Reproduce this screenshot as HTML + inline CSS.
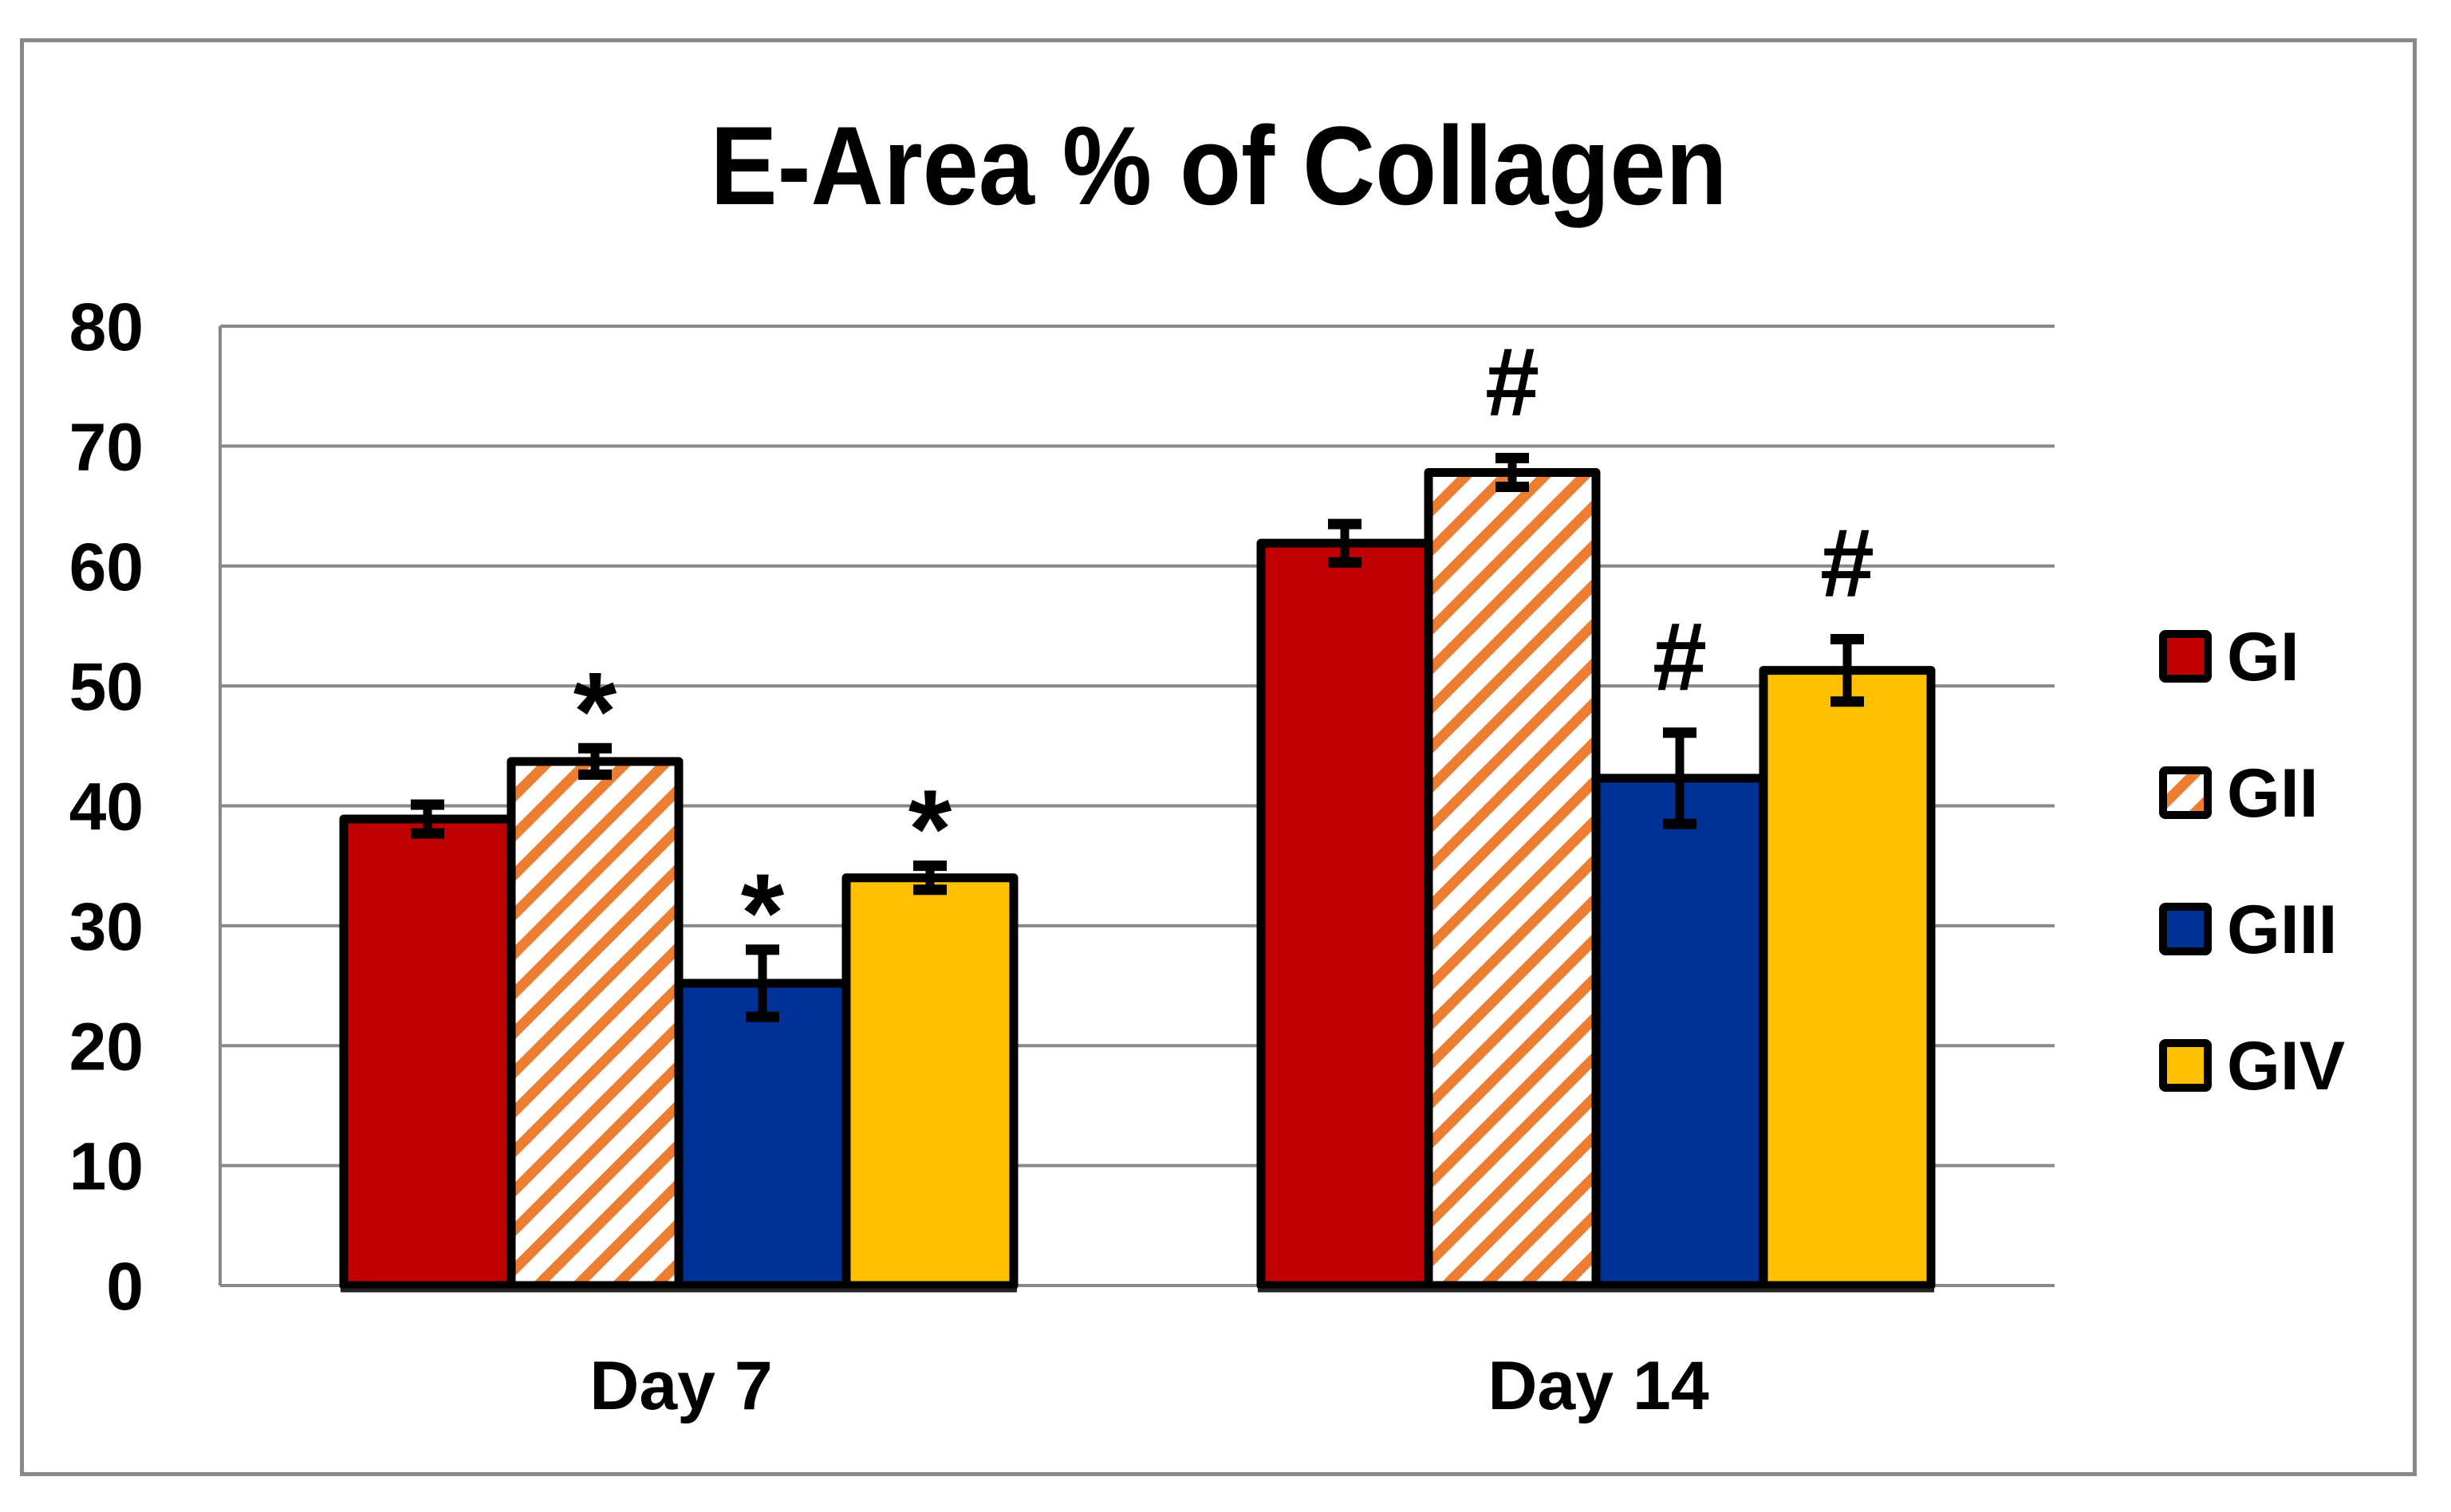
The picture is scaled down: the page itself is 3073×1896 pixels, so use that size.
<!DOCTYPE html>
<html><head><meta charset="utf-8"><title>E-Area % of Collagen</title>
<style>html,body{margin:0;padding:0;background:#fff}svg{display:block}text{font-family:"Liberation Sans",sans-serif;font-weight:bold;fill:#000}</style>
</head><body>
<svg id="chart" width="3073" height="1896" viewBox="0 0 3073 1896" xmlns="http://www.w3.org/2000/svg">
<defs>
<pattern id="hatch" patternUnits="userSpaceOnUse" width="35" height="35" patternTransform="rotate(-45)">
<rect width="35" height="35" fill="#fff"/>
<rect x="0" y="0" width="35" height="13" fill="#ED7D31"/>
</pattern>
</defs>
<rect x="27.5" y="50.5" width="3000" height="1798" fill="#fff" stroke="#898989" stroke-width="5"/>
<text x="1528" y="256" font-size="140" text-anchor="middle" textLength="1275" lengthAdjust="spacingAndGlyphs">E-Area % of Collagen</text>
<g id="grid"></g><g id="bars"></g><g id="legend"></g>
</svg>
<script>
const categories = ["Day 7", "Day 14"];
const groups = ["GI", "GII", "GIII", "GIV"];
const valuesGI = [38.9, 61.9];
const valuesGII = [43.7, 67.8];
const valuesGIII = [25.2, 42.3];
const valuesGIV = [34.0, 51.3];
const errGI = [1.6, 2.0];
const errGII = [1.5, 1.6];
const errGIII = [3.2, 4.2];
const errGIV = [1.4, 3.0];
const marksGII = ["*", "#"];
const marksGIII = ["*", "#"];
const marksGIV = ["*", "#"];
const marksGI = ["", ""];
const yTicks = [0, 10, 20, 30, 40, 50, 60, 70, 80];

const NS = "http://www.w3.org/2000/svg";
const plotL = 276, plotR = 2576, plotT = 409, plotB = 1612, yMax = 80;
const y = v => plotB - v / yMax * (plotB - plotT);
const catW = (plotR - plotL) / categories.length;
const barW = 210;
const x = (ci, si) => plotL + ci * catW + catW / 2 - 2 * barW + si * barW;
const fills = ["#C00000", "url(#hatch)", "#003296", "#FFC000"];
const series = [valuesGI, valuesGII, valuesGIII, valuesGIV];
const errs = [errGI, errGII, errGIII, errGIV];
const marks = [marksGI, marksGII, marksGIII, marksGIV];
function mk(tag, attrs, parent, text) {
  const e = document.createElementNS(NS, tag);
  for (const k in attrs) e.setAttribute(k, attrs[k]);
  if (text !== undefined) e.textContent = text;
  parent.appendChild(e);
  return e;
}
const grid = document.getElementById("grid");
yTicks.forEach(t => {
  const l = mk("line", {x1: plotL, x2: plotR, y1: y(t), y2: y(t), stroke: "#898989", "stroke-width": 4}, grid);
  
  
  const tx = mk("text", {x: 180, y: y(t) + 30, "font-size": 84, "text-anchor": "end"}, grid, String(t));
  
  
});
const gl = mk("line", {x1: plotL, x2: plotL, y1: plotT, y2: plotB, stroke: "#898989", "stroke-width": 4}, grid);


categories.forEach((c, ci) => {
  const t = mk("text", {x: plotL + ci * catW + catW / 2 + 3, y: 1767, "font-size": 86, "text-anchor": "middle"}, grid, c);
  
  
});
const bars = document.getElementById("bars");
categories.forEach((c, ci) => {
  series.forEach((s, si) => {
    const bx = x(ci, si), by = y(s[ci]);
    const r = mk("rect", {x: bx, y: by, width: barW, height: plotB - by, fill: fills[si], stroke: "#000", "stroke-width": 11, "stroke-linejoin": "round"}, bars);
    
    
    const cx = bx + barW / 2, yt = y(s[ci] + errs[si][ci]), yb = y(s[ci] - errs[si][ci]);
    const eg = mk("g", {stroke: "#000"}, bars);
    
    
    mk("line", {x1: cx, x2: cx, y1: yt, y2: yb, "stroke-width": 11}, eg);
    mk("line", {x1: cx - 21, x2: cx + 21, y1: yt + 6, y2: yt + 6, "stroke-width": 13}, eg);
    mk("line", {x1: cx - 21, x2: cx + 21, y1: yb - 6, y2: yb - 6, "stroke-width": 13}, eg);
    const m = marks[si][ci];
    if (m) {
      const off = m === "*" ? -8 : 48;
      const fs = m === "*" ? 140 : 122;
      const t = mk("text", {x: cx, y: yt - off, "font-size": fs, "text-anchor": "middle"}, bars, m);
      
      
    }
  });
  const base = mk("line", {x1: x(ci, 0) - 4, x2: x(ci, 3) + barW + 4, y1: plotB + 6, y2: plotB + 6, stroke: "#222", "stroke-width": 5}, bars);
  
  
});
const legend = document.getElementById("legend");
groups.forEach((g, i) => {
  const gy = 823 + i * 171;
  const lg = mk("g", {}, legend);
  
  
  mk("rect", {x: 2712, y: gy - 28, width: 56, height: 56, fill: fills[i], stroke: "#000", "stroke-width": 10, rx: 3}, lg);
  mk("text", {x: 2792, y: gy + 30, "font-size": 86}, lg, g);
});
</script>
</body></html>
